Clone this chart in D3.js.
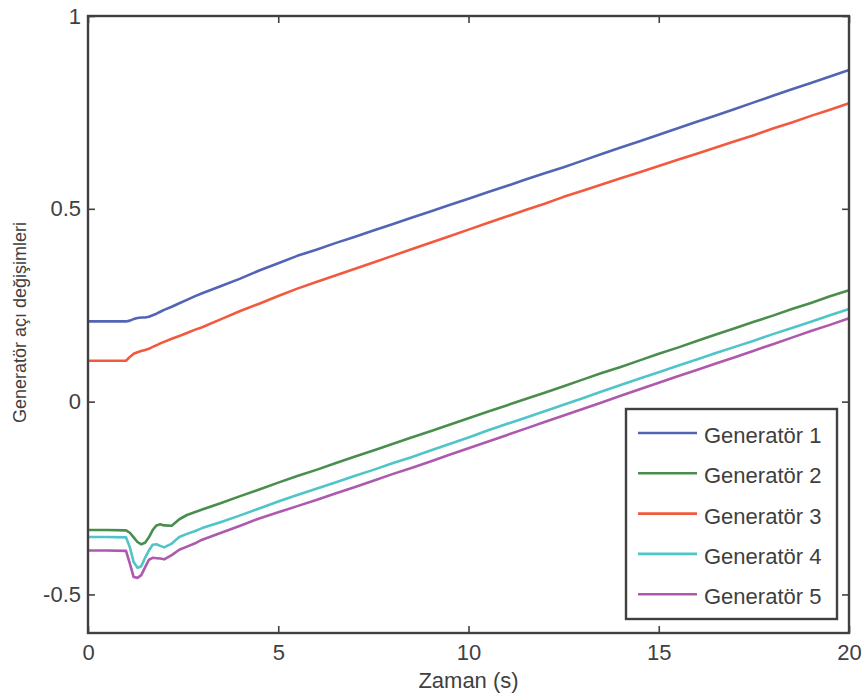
<!DOCTYPE html>
<html>
<head>
<meta charset="utf-8">
<script src="https://cdn.jsdelivr.net/npm/d3@7"></script>
<style>
  html, body { margin: 0; padding: 0; background: #fff; }
  svg { display: block; font-family: "Liberation Sans", Arial, sans-serif; }
</style>
</head>
<body>
<svg id="chart" width="864" height="697"></svg>
<script>
// Time samples (s), shared by every generator trace
const time = [0, 0.5, 1.0, 1.1, 1.2, 1.3, 1.4, 1.5, 1.6, 1.7, 1.8, 1.9, 2.0, 2.2, 2.4, 2.6, 2.8,
  3.0, 3.5, 4.0, 4.5, 5.0, 5.5, 6.0, 6.5, 7.0, 7.5, 8.0, 8.5, 9.0, 9.5, 10.0, 10.5, 11.0, 11.5,
  12.0, 12.5, 13.0, 13.5, 14.0, 14.5, 15.0, 15.5, 16.0, 16.5, 17.0, 17.5, 18.0, 18.5, 19.0, 19.5, 20.0];

const gen1 = [0.208, 0.208, 0.208, 0.210, 0.214, 0.217, 0.218, 0.218, 0.220, 0.224, 0.228, 0.233, 0.238, 0.246, 0.255, 0.264, 0.273,
  0.281, 0.300, 0.319, 0.340, 0.359, 0.378, 0.394, 0.411, 0.427, 0.444, 0.460, 0.477, 0.493, 0.510, 0.526, 0.543, 0.559, 0.576,
  0.592, 0.608, 0.625, 0.642, 0.659, 0.675, 0.692, 0.709, 0.726, 0.742, 0.759, 0.776, 0.793, 0.810, 0.826, 0.843, 0.860];

const gen2 = [-0.333, -0.333, -0.334, -0.340, -0.352, -0.364, -0.370, -0.366, -0.352, -0.333, -0.321, -0.318, -0.321, -0.322, -0.305, -0.294, -0.287,
  -0.280, -0.263, -0.245, -0.228, -0.210, -0.193, -0.177, -0.160, -0.143, -0.127, -0.110, -0.093, -0.077, -0.060, -0.043, -0.026, -0.010, 0.007,
  0.023, 0.040, 0.057, 0.074, 0.090, 0.107, 0.124, 0.140, 0.157, 0.174, 0.190, 0.207, 0.223, 0.240, 0.256, 0.273, 0.289];

const gen3 = [0.106, 0.106, 0.106, 0.116, 0.124, 0.128, 0.131, 0.134, 0.137, 0.142, 0.146, 0.151, 0.155, 0.163, 0.170, 0.178, 0.186,
  0.193, 0.214, 0.235, 0.254, 0.274, 0.293, 0.310, 0.327, 0.344, 0.361, 0.378, 0.395, 0.412, 0.429, 0.446, 0.463, 0.480, 0.497,
  0.513, 0.531, 0.547, 0.563, 0.579, 0.595, 0.611, 0.627, 0.643, 0.659, 0.675, 0.691, 0.708, 0.724, 0.741, 0.757, 0.774];

const gen4 = [-0.351, -0.351, -0.352, -0.378, -0.416, -0.431, -0.427, -0.405, -0.386, -0.371, -0.370, -0.374, -0.378, -0.368, -0.351, -0.343, -0.336,
  -0.328, -0.312, -0.295, -0.277, -0.259, -0.242, -0.226, -0.210, -0.193, -0.177, -0.160, -0.144, -0.127, -0.110, -0.093, -0.075, -0.058, -0.042,
  -0.025, -0.008, 0.009, 0.026, 0.043, 0.060, 0.076, 0.093, 0.109, 0.126, 0.142, 0.158, 0.175, 0.191, 0.207, 0.224, 0.240];

const gen5 = [-0.386, -0.386, -0.387, -0.420, -0.455, -0.457, -0.450, -0.430, -0.410, -0.405, -0.406, -0.407, -0.409, -0.398, -0.384, -0.376, -0.368,
  -0.358, -0.340, -0.322, -0.303, -0.287, -0.271, -0.255, -0.238, -0.222, -0.205, -0.188, -0.172, -0.155, -0.138, -0.121, -0.104, -0.087, -0.070,
  -0.053, -0.036, -0.019, -0.002, 0.015, 0.032, 0.049, 0.066, 0.082, 0.099, 0.115, 0.132, 0.149, 0.166, 0.183, 0.199, 0.216];

const seriesNames = ["Generatör 1", "Generatör 2", "Generatör 3", "Generatör 4", "Generatör 5"];
const seriesValues = [gen1, gen2, gen3, gen4, gen5];
const seriesColors = ["#5464b4", "#4a8e4e", "#f25a40", "#4fc5c8", "#ae58ae"];

const xTicks = [0, 5, 10, 15, 20];
const yTicks = [-0.5, 0, 0.5, 1];
const yTickLabels = ["-0.5", "0", "0.5", "1"];
const xTitle = "Zaman (s)";
const yTitle = "Generatör açı değişimleri";

// Plot frame
const plot = { left: 88, right: 849, top: 16, bottom: 633 };
const axisColor = "#404040";

const svg = d3.select("#chart");

const x = d3.scaleLinear().domain([0, 20]).range([plot.left, plot.right]);
const y = d3.scaleLinear().domain([-0.6, 1]).range([plot.bottom, plot.top]);

// Traces
const line = d3.line()
  .x((d, i) => x(time[i]))
  .y(d => y(d));

svg.append("g")
  .selectAll("path")
  .data(seriesValues)
  .join("path")
  .attr("d", d => line(d))
  .attr("fill", "none")
  .attr("stroke", (d, i) => seriesColors[i])
  .attr("stroke-width", 2.6)
  .attr("stroke-linejoin", "round");

// Axes with inward ticks on all four sides
const tickLen = 7;

const bottomAxis = d3.axisBottom(x).tickValues(xTicks).tickSize(-tickLen).tickPadding(11).tickFormat(d3.format("d"));
const topAxis = d3.axisTop(x).tickValues(xTicks).tickSize(-tickLen).tickFormat("");
const leftAxis = d3.axisLeft(y).tickValues(yTicks).tickSize(-tickLen).tickPadding(7)
  .tickFormat((d, i) => yTickLabels[i]);
const rightAxis = d3.axisRight(y).tickValues(yTicks).tickSize(-tickLen).tickFormat("");

function styleAxis(g) {
  g.select(".domain").remove();
  g.selectAll(".tick line").attr("stroke", axisColor).attr("stroke-width", 1.6);
  g.selectAll(".tick text")
    .attr("fill", axisColor)
    .attr("font-size", 22)
    .attr("font-family", "'Liberation Sans', Arial, sans-serif");
}

svg.append("g").attr("transform", `translate(0,${plot.bottom})`).call(bottomAxis).call(styleAxis);
svg.append("g").attr("transform", `translate(0,${plot.top})`).call(topAxis).call(styleAxis);
svg.append("g").attr("transform", `translate(${plot.left},0)`).call(leftAxis).call(styleAxis);
svg.append("g").attr("transform", `translate(${plot.right},0)`).call(rightAxis).call(styleAxis);

// Frame
svg.append("rect")
  .attr("x", plot.left)
  .attr("y", plot.top)
  .attr("width", plot.right - plot.left)
  .attr("height", plot.bottom - plot.top)
  .attr("fill", "none")
  .attr("stroke", axisColor)
  .attr("stroke-width", 2.4);

// Axis titles
svg.append("text")
  .attr("x", (plot.left + plot.right) / 2)
  .attr("y", 688)
  .attr("text-anchor", "middle")
  .attr("fill", axisColor)
  .attr("font-size", 22)
  .text(xTitle);

svg.append("text")
  .attr("transform", `translate(26,${(plot.top + plot.bottom) / 2 - 2}) rotate(-90)`)
  .attr("text-anchor", "middle")
  .attr("fill", axisColor)
  .attr("font-size", 18)
  .text(yTitle);

// Legend
const legend = { x: 626, y: 409, w: 211, h: 210, rowTop: 433, rowStep: 40.3 };
const lg = svg.append("g");
lg.append("rect")
  .attr("x", legend.x)
  .attr("y", legend.y)
  .attr("width", legend.w)
  .attr("height", legend.h)
  .attr("fill", "#fff")
  .attr("stroke", axisColor)
  .attr("stroke-width", 2.4);

const rows = lg.selectAll("g.row")
  .data(seriesNames)
  .join("g")
  .attr("class", "row")
  .attr("transform", (d, i) => `translate(0,${legend.rowTop + i * legend.rowStep})`);

rows.append("line")
  .attr("x1", 638).attr("x2", 697)
  .attr("y1", 0).attr("y2", 0)
  .attr("stroke", (d, i) => seriesColors[i])
  .attr("stroke-width", 2.6);

rows.append("text")
  .attr("x", 704)
  .attr("y", 10)
  .attr("fill", axisColor)
  .attr("font-size", 22)
  .text(d => d);
</script>
</body>
</html>
